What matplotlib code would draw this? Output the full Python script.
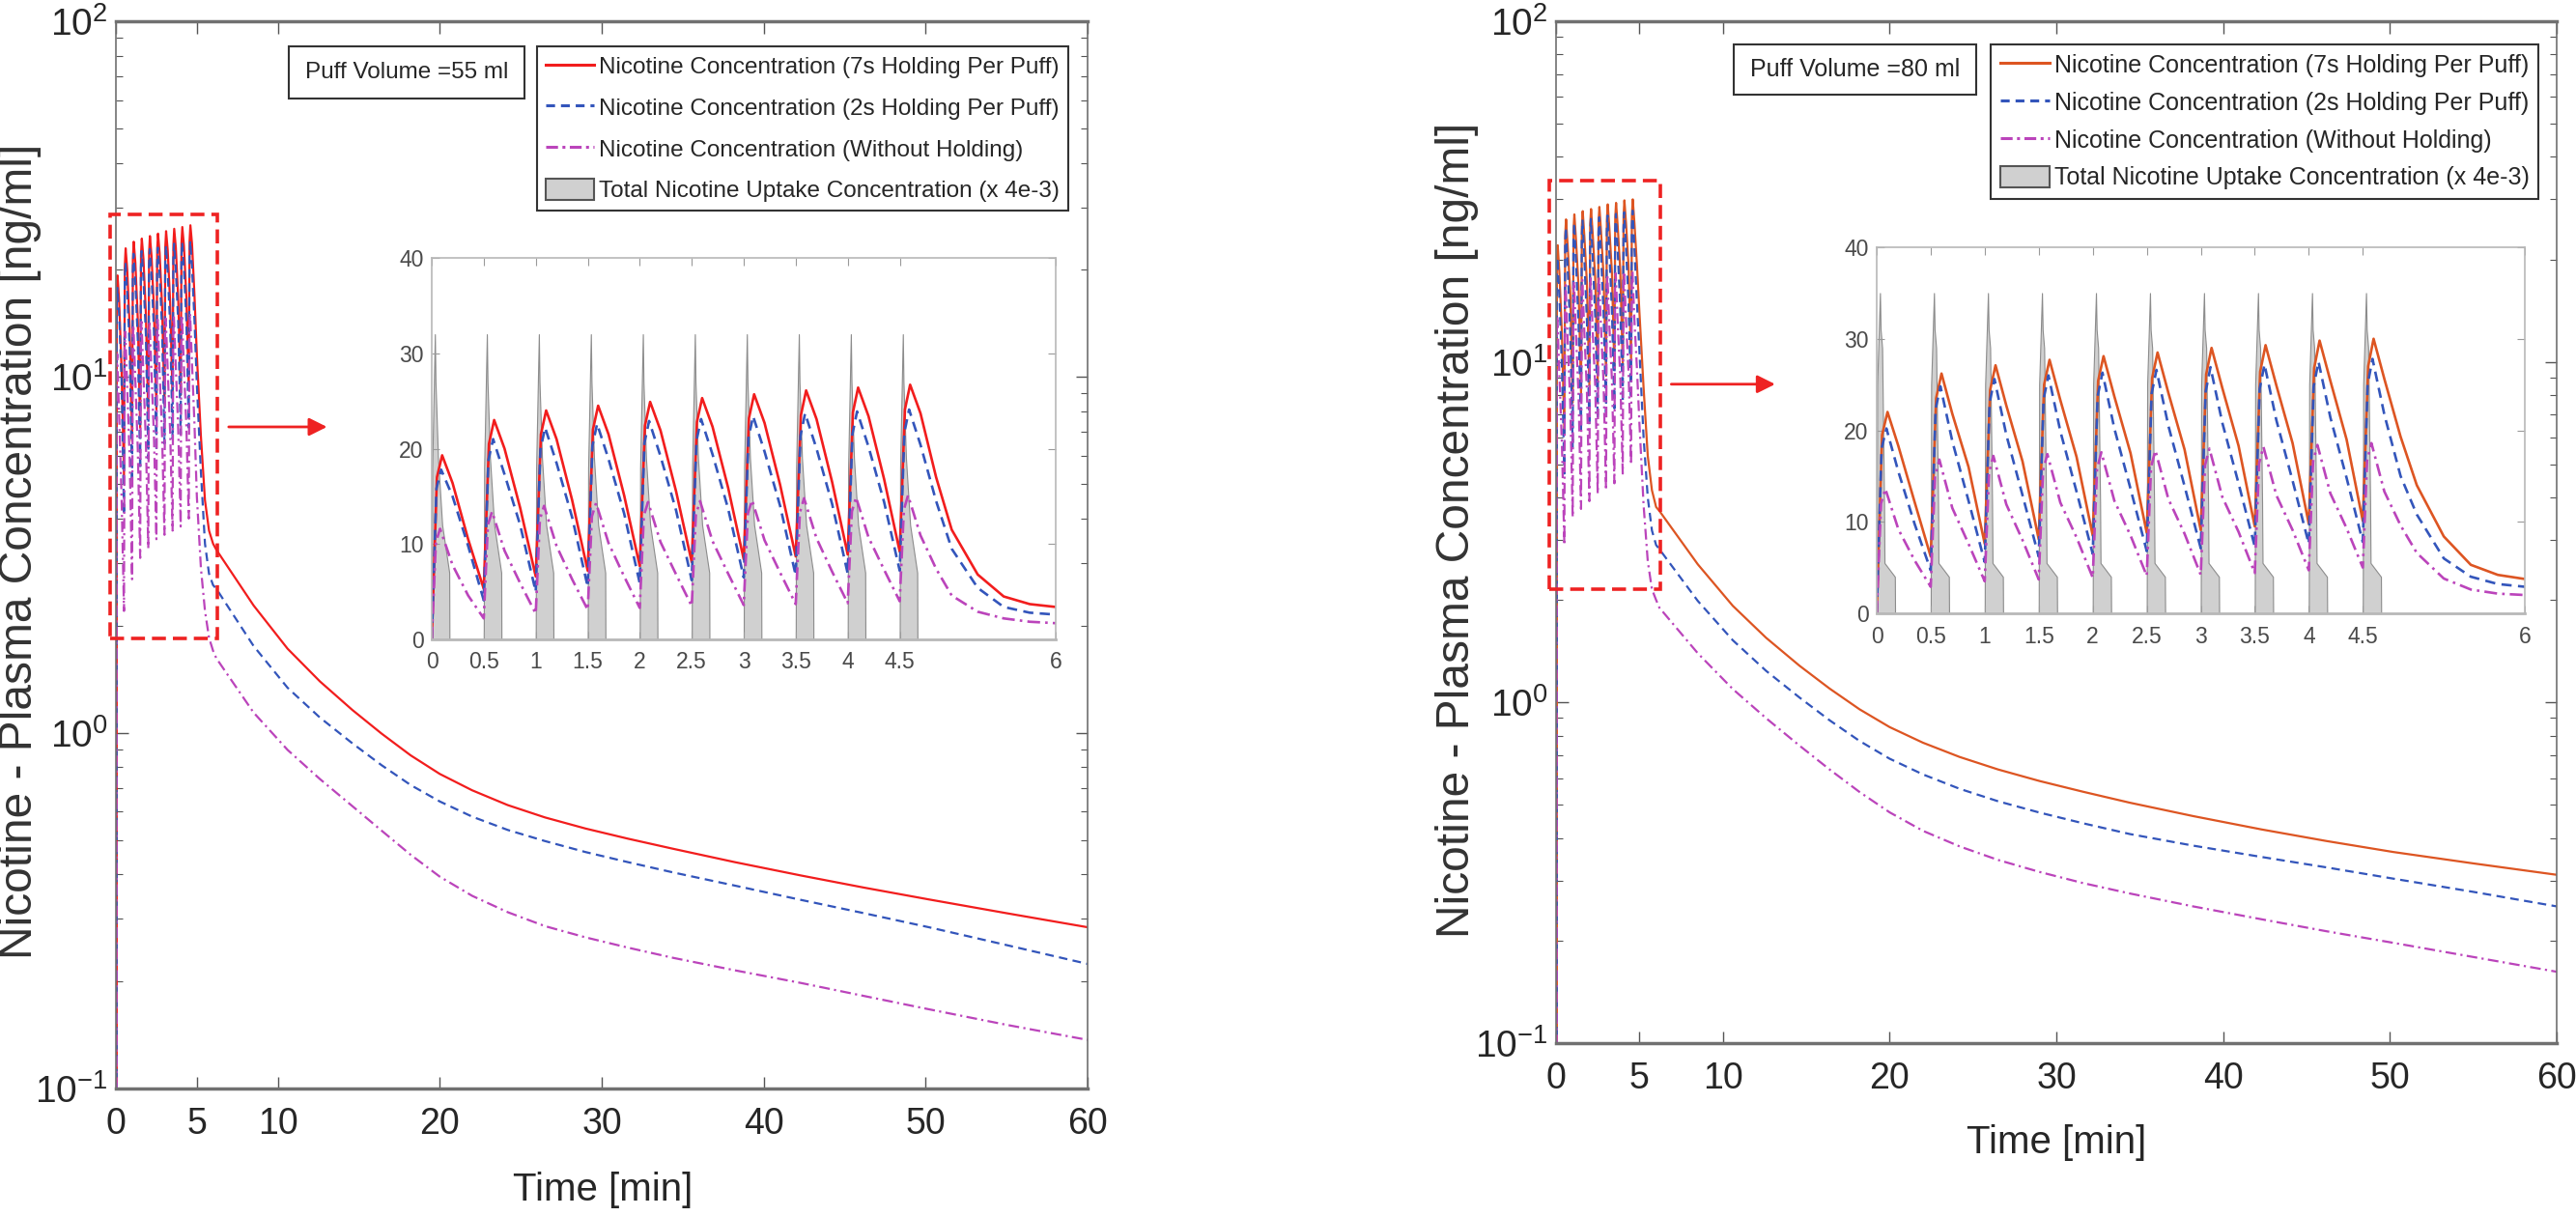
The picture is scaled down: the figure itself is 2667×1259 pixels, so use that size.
import matplotlib
matplotlib.use("Agg")
import matplotlib.pyplot as plt
from matplotlib.patches import Rectangle, Patch
from matplotlib.lines import Line2D

# ---- data ----------------------------------------------------------------
puff_t = [0.0, 0.5, 1.0, 1.5, 2.0, 2.5, 3.0, 3.5, 4.0, 4.5]
end_t = [4.85, 5.0, 5.25, 5.5, 5.75, 6.0]
tail_t = [6.2, 8.5, 10.6, 12.6, 14.6, 16.4, 18.2, 20.0, 22.0, 24.2,
          26.5, 29.0, 31.6, 34.4, 38.2, 42.3, 46.2, 50.2, 55.0, 60.0]

# puff volume 55 ml
red55_rise = [17.0, 20.5, 21.5, 22.0, 22.4, 22.8, 23.2, 23.5, 23.8, 24.1]
red55_peak = [19.3, 23.0, 24.0, 24.5, 24.9, 25.3, 25.7, 26.1, 26.4, 26.7]
red55_knee = [16.4, 20.0, 21.0, 21.5, 21.9, 22.3, 22.7, 23.1, 23.4, 23.7]
red55_mid = [10.5, 13.8, 14.6, 15.1, 15.5, 15.9, 16.2, 16.5, 16.8]
red55_trough = [5.3, 6.6, 7.2, 7.7, 8.1, 8.4, 8.7, 8.9, 9.2]
red55_end = [17.0, 11.5, 6.8, 4.5, 3.7, 3.4]
red55_tail = [3.27, 2.28, 1.723, 1.394, 1.159, 0.995, 0.864, 0.766, 0.689, 0.626,
              0.578, 0.538, 0.504, 0.472, 0.433, 0.397, 0.367, 0.340, 0.311, 0.284]

blue55_rise = [15.8, 18.8, 19.9, 20.3, 20.6, 20.8, 21.1, 21.3, 21.5, 21.7]
blue55_peak = [17.8, 21.0, 22.2, 22.6, 22.9, 23.1, 23.4, 23.7, 23.9, 24.1]
blue55_knee = [15.0, 17.3, 18.5, 18.9, 19.2, 19.4, 19.7, 20.0, 20.2, 20.4]
blue55_mid = [9.8, 12.0, 12.8, 13.2, 13.5, 13.7, 14.0, 14.2, 14.4]
blue55_trough = [4.1, 5.0, 5.5, 5.9, 6.2, 6.5, 6.7, 6.9, 7.2]
blue55_end = [14.5, 9.5, 5.4, 3.4, 2.8, 2.6]
blue55_tail = [2.54, 1.754, 1.338, 1.103, 0.934, 0.811, 0.713, 0.641, 0.581, 0.533,
               0.496, 0.462, 0.433, 0.405, 0.372, 0.339, 0.311, 0.284, 0.253, 0.224]

mag55_rise = [10.2, 12.0, 12.6, 12.9, 13.0, 13.1, 13.2, 13.3, 13.4, 13.6]
mag55_peak = [11.6, 13.4, 14.0, 14.3, 14.4, 14.5, 14.6, 14.8, 14.9, 15.1]
mag55_knee = [7.8, 9.3, 9.8, 10.1, 10.2, 10.3, 10.4, 10.6, 10.7, 10.9]
mag55_mid = [4.6, 5.9, 6.3, 6.6, 6.8, 6.9, 7.0, 7.1, 7.3]
mag55_trough = [2.2, 2.7, 3.1, 3.3, 3.5, 3.6, 3.7, 3.8, 4.0]
mag55_end = [7.4, 4.6, 2.9, 2.2, 1.85, 1.70]
mag55_tail = [1.62, 1.14, 0.895, 0.741, 0.622, 0.531, 0.454, 0.394, 0.348, 0.313,
              0.286, 0.266, 0.249, 0.233, 0.215, 0.198, 0.182, 0.167, 0.151, 0.137]

uptake55_dt = [0.0, 0.004, 0.03, 0.036, 0.06, 0.1, 0.168, 0.17]
uptake55 = [0.0, 18.0, 32.0, 27.0, 19.0, 12.0, 7.0, 0.0]

# puff volume 80 ml
red80_rise = [19.5, 23.5, 24.4, 25.0, 25.4, 25.7, 26.1, 26.4, 26.8, 27.0]
red80_peak = [22.0, 26.2, 27.1, 27.7, 28.1, 28.5, 29.0, 29.3, 29.8, 30.0]
red80_knee = [18.3, 21.8, 22.7, 23.3, 23.7, 24.1, 24.6, 24.9, 25.4, 25.6]
red80_mid = [12.2, 16.0, 16.6, 17.1, 17.5, 17.9, 18.3, 18.6, 19.0]
red80_trough = [6.2, 7.6, 8.1, 8.5, 8.8, 9.1, 9.5, 9.8, 10.1]
red80_end = [19.3, 14.0, 8.4, 5.3, 4.2, 3.75]
red80_tail = [3.65, 2.545, 1.922, 1.548, 1.282, 1.099, 0.955, 0.847, 0.762, 0.692,
              0.636, 0.588, 0.547, 0.508, 0.464, 0.424, 0.392, 0.364, 0.337, 0.312]

blue80_rise = [18.0, 22.3, 23.0, 23.4, 23.7, 24.0, 24.2, 24.5, 24.8, 25.0]
blue80_peak = [20.2, 24.8, 25.6, 26.0, 26.3, 26.6, 26.9, 27.2, 27.5, 27.8]
blue80_knee = [15.5, 18.8, 19.5, 19.9, 20.2, 20.5, 20.8, 21.1, 21.4, 21.7]
blue80_mid = [9.8, 12.3, 12.9, 13.3, 13.6, 13.9, 14.2, 14.5, 14.8]
blue80_trough = [4.7, 5.6, 6.2, 6.5, 6.8, 7.1, 7.3, 7.6, 7.8]
blue80_end = [15.0, 10.8, 6.0, 4.0, 3.2, 2.9]
blue80_tail = [2.818, 1.987, 1.523, 1.238, 1.034, 0.887, 0.771, 0.684, 0.615, 0.558,
               0.513, 0.475, 0.442, 0.411, 0.380, 0.352, 0.328, 0.304, 0.278, 0.252]

mag80_rise = [12.0, 15.0, 15.4, 15.6, 15.8, 16.0, 16.2, 16.4, 16.6, 16.7]
mag80_peak = [13.6, 16.8, 17.2, 17.4, 17.6, 17.8, 18.0, 18.2, 18.4, 18.6]
mag80_knee = [9.2, 11.5, 11.9, 12.1, 12.3, 12.5, 12.7, 12.9, 13.1, 13.3]
mag80_mid = [5.8, 7.6, 8.0, 8.3, 8.5, 8.7, 8.9, 9.1, 9.3]
mag80_trough = [2.9, 3.5, 3.7, 3.9, 4.1, 4.2, 4.4, 4.7, 5.0]
mag80_end = [9.6, 6.6, 3.8, 2.6, 2.15, 2.0]
mag80_tail = [1.897, 1.395, 1.095, 0.899, 0.747, 0.636, 0.546, 0.476, 0.420, 0.378,
              0.345, 0.318, 0.295, 0.275, 0.252, 0.231, 0.213, 0.197, 0.179, 0.162]

uptake80_dt = [0.0, 0.004, 0.03, 0.036, 0.05, 0.068, 0.072, 0.168, 0.17]
uptake80 = [0.0, 25.0, 35.0, 31.0, 29.0, 12.0, 5.5, 4.0, 0.0]

labels = ["Nicotine Concentration (7s Holding Per Puff)",
          "Nicotine Concentration (2s Holding Per Puff)",
          "Nicotine Concentration (Without Holding)",
          "Total Nicotine Uptake Concentration (x 4e-3)"]
inset_ticks = [0, 0.5, 1, 1.5, 2, 2.5, 3, 3.5, 4, 4.5, 6]
inset_ticklabels = ["0", "0.5", "1", "1.5", "2", "2.5", "3", "3.5", "4", "4.5", "6"]
main_xticks = [0, 5, 10, 20, 30, 40, 50, 60]

# ---- style ----------------------------------------------------------------
plt.rcParams["font.family"] = ["Liberation Sans", "DejaVu Sans"]
plt.rcParams["mathtext.default"] = "regular"
plt.rcParams["axes.unicode_minus"] = False
W, H = 2667, 1259
BLUE = "#3355bb"
MAG = "#bb44bb"
GRAY_FILL = "#d0d0d0"
TXT = "#262626"


def fig_box(x0, y0, x1, y1):
    # pixel box (top-left origin) -> figure fraction rect
    return [x0 / W, 1 - y1 / H, (x1 - x0) / W, (y1 - y0) / H]


def build(rise, peak, knee, mid, trough, end_v, tail_v, rise_dt, peak_dt):
    t, v = [0.0], [0.0]
    for k in range(len(puff_t)):
        p = puff_t[k]
        t += [p + rise_dt, p + peak_dt, p + 0.2]
        v += [rise[k], peak[k], knee[k]]
        if k < len(puff_t) - 1:
            t += [p + 0.35, puff_t[k + 1]]
            v += [mid[k], trough[k]]
    return t + end_t + tail_t, v + end_v + tail_v


def build_uptake(dt, vals):
    t, v = [], []
    for p in puff_t:
        t += [p + d for d in dt]
        v += vals
    return t, v


fig = plt.figure(figsize=(W / 100, H / 100), dpi=100)

panels = [
    dict(main=(120, 22, 1126, 1127), inset=(447, 267, 1093, 662), red="#f21d1d",
         series=[(red55_rise, red55_peak, red55_knee, red55_mid, red55_trough, red55_end, red55_tail, 0.05, 0.1),
                 (blue55_rise, blue55_peak, blue55_knee, blue55_mid, blue55_trough, blue55_end, blue55_tail, 0.045, 0.09),
                 (mag55_rise, mag55_peak, mag55_knee, mag55_mid, mag55_trough, mag55_end, mag55_tail, 0.04, 0.08)],
         uptake=(uptake55_dt, uptake55), box=(-0.36, 1.84, 6.26, 28.7), arrow=(6.8, 13.2, 7.24),
         puff="Puff Volume =55 ml", puffbox=(299, 48, 543, 102), legend_corner=(1106, 48),
         legend_size=17.5, legend_spacing=0.76,
         ylabel_xy=(33, 571), xlabel_xy=(624, 1232)),
    dict(main=(1611, 22, 2647, 1080), inset=(1943, 256, 2614, 635), red="#dd5522",
         series=[(red80_rise, red80_peak, red80_knee, red80_mid, red80_trough, red80_end, red80_tail, 0.05, 0.1),
                 (blue80_rise, blue80_peak, blue80_knee, blue80_mid, blue80_trough, blue80_end, blue80_tail, 0.045, 0.09),
                 (mag80_rise, mag80_peak, mag80_knee, mag80_mid, mag80_trough, mag80_end, mag80_tail, 0.04, 0.08)],
         uptake=(uptake80_dt, uptake80), box=(-0.4, 2.15, 6.25, 34.1), arrow=(6.75, 13.3, 8.6),
         puff="Puff Volume =80 ml", puffbox=(1795, 46, 2046, 98), legend_corner=(2628, 46),
         legend_size=18, legend_spacing=0.56,
         ylabel_xy=(1521, 549), xlabel_xy=(2129, 1183)),
]

for pn in panels:
    colors = [pn["red"], BLUE, MAG]
    styles = [dict(ls="-"), dict(ls=(0, (4, 2.5))), dict(ls=(0, (5, 2, 1, 2)))]
    curves = [build(*s) for s in pn["series"]]

    # main log axes
    ax = fig.add_axes(fig_box(*pn["main"]))
    for (t, v), c, st in zip(curves, colors, styles):
        ax.plot(t, v, color=c, lw=1.6, **st)
    ax.set_yscale("log")
    ax.set_xlim(0, 60)
    ax.set_ylim(0.1, 100)
    ax.set_xticks(main_xticks)
    ax.tick_params(which="both", direction="in", top=True, right=True, colors="#555555")
    ax.tick_params(which="major", length=9, width=1)
    ax.tick_params(which="minor", length=5, width=0.8)
    ax.tick_params(axis="x", pad=14, labelsize=27, labelcolor=TXT)
    ax.tick_params(axis="y", pad=6, labelsize=28, labelcolor=TXT)
    for side, lw in (("top", 2.5), ("bottom", 2.5), ("left", 1.2), ("right", 1.2)):
        ax.spines[side].set_color("#707070")
        ax.spines[side].set_linewidth(lw)

    x0, y0, x1, y1 = pn["box"]
    ax.add_patch(Rectangle((x0, y0), x1 - x0, y1 - y0, fill=False, ec="#ee2222",
                           lw=2.6, ls=(0, (4, 2)), clip_on=False, zorder=5))
    ax_, bx_, ay_ = pn["arrow"]
    ax.annotate("", xy=(bx_, ay_), xytext=(ax_, ay_),
                arrowprops=dict(arrowstyle="-|>", color="#ee2222", lw=2, mutation_scale=28))

    handles = [Line2D([], [], color=pn["red"], lw=2.2),
               Line2D([], [], color=BLUE, lw=2.2, ls=(0, (3, 2))),
               Line2D([], [], color=MAG, lw=2.2, ls=(0, (4, 1.5, 1, 1.5))),
               Patch(facecolor=GRAY_FILL, edgecolor="#555555", lw=1.5)]
    lx, ly = pn["legend_corner"]
    leg = ax.legend(handles, labels, loc="upper right", bbox_to_anchor=(lx / W, 1 - ly / H),
                    bbox_transform=fig.transFigure, fontsize=pn["legend_size"],
                    frameon=True, fancybox=False, edgecolor="#333333", framealpha=1,
                    borderpad=0.37, handlelength=2.05, handletextpad=0.2,
                    labelspacing=pn["legend_spacing"], handleheight=1.0, borderaxespad=0)
    leg.get_frame().set_linewidth(1.5)
    for txt in leg.get_texts():
        txt.set_color(TXT)

    px0, py0, px1, py1 = pn["puffbox"]
    fig.add_artist(Rectangle((px0 / W, 1 - py1 / H), (px1 - px0) / W, (py1 - py0) / H,
                             transform=fig.transFigure, fill=False, ec="#333333", lw=1.5))
    fig.text((px0 + px1) / 2 / W, 1 - (py0 + py1) / 2 / H, pn["puff"], ha="center", va="center",
             size=pn["legend_size"], color=TXT)

    yx, yy = pn["ylabel_xy"]
    fig.text(yx / W, 1 - yy / H, "Nicotine - Plasma Concentration [ng/ml]", rotation=90,
             rotation_mode="anchor", ha="center", va="baseline", size=34.5, color="#333333")
    xx, xy = pn["xlabel_xy"]
    fig.text(xx / W, 1 - xy / H, "Time [min]", ha="center", va="center", size=29, color=TXT)

    # zoomed inset
    ins = fig.add_axes(fig_box(*pn["inset"]))
    ut, uv = build_uptake(*pn["uptake"])
    ins.fill_between(ut, 0, uv, facecolor=GRAY_FILL, edgecolor="#8c8c8c", lw=0.8)
    for (t, v), c, st in zip(curves, colors, styles):
        ins.plot(t, v, color=c, lw=1.9, **st)
    ins.set_xlim(0, 6)
    ins.set_ylim(0, 40)
    ins.set_xticks(inset_ticks, inset_ticklabels)
    ins.set_yticks([0, 10, 20, 30, 40])
    ins.tick_params(direction="in", top=True, right=True, length=6, width=0.8,
                    colors="#9a9a9a", labelcolor="#4a4a4a", labelsize=16.5)
    ins.tick_params(axis="x", pad=9)
    ins.tick_params(axis="y", pad=6)
    for side in ins.spines:
        ins.spines[side].set_color("#b8b8b8")
        ins.spines[side].set_linewidth(1.2)
    ins.spines["bottom"].set_linewidth(2)

fig.savefig("out.png", dpi=100, facecolor="white")
